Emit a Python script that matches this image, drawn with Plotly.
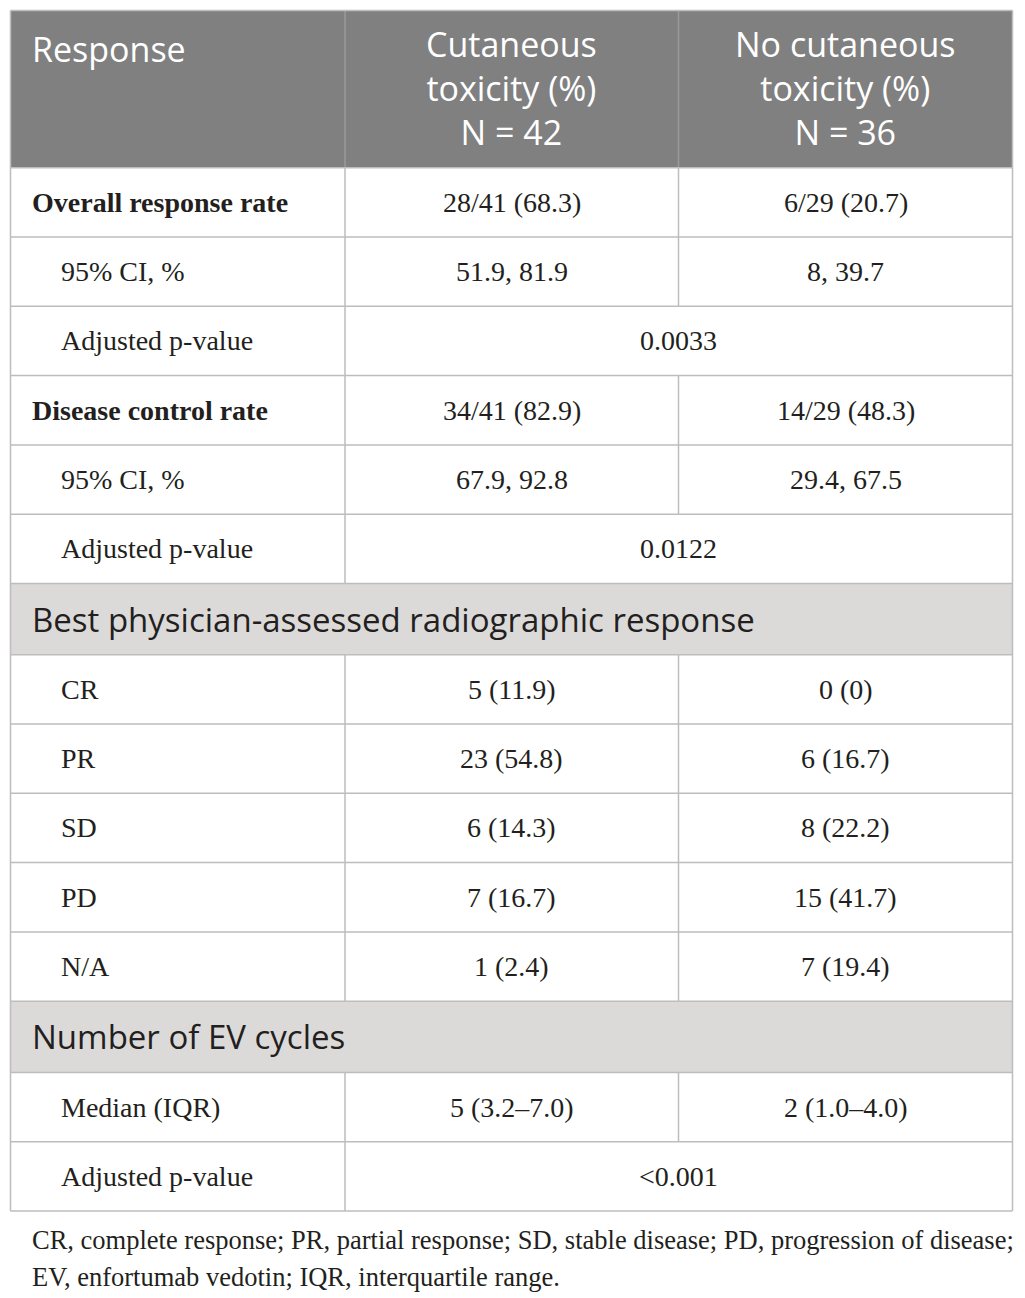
import plotly.graph_objects as go

# column headers
col_headers = [
    "Response",
    "Cutaneous<br>toxicity (%)<br>N = 42",
    "No cutaneous<br>toxicity (%)<br>N = 36",
]

# table rows
row_labels = [
    "Overall response rate", "95% CI, %", "Adjusted p-value",
    "Disease control rate", "95% CI, %", "Adjusted p-value",
    "Best physician-assessed radiographic response",
    "CR", "PR", "SD", "PD", "N/A",
    "Number of EV cycles",
    "Median (IQR)", "Adjusted p-value",
]
row_kind = [
    "bold", "sub", "span",
    "bold", "sub", "span",
    "section",
    "sub", "sub", "sub", "sub", "sub",
    "section",
    "sub", "span",
]
cutaneous = [
    "28/41 (68.3)", "51.9, 81.9", "0.0033",
    "34/41 (82.9)", "67.9, 92.8", "0.0122",
    "",
    "5 (11.9)", "23 (54.8)", "6 (14.3)", "7 (16.7)", "1 (2.4)",
    "",
    "5 (3.2–7.0)", "<0.001",
]
no_cutaneous = [
    "6/29 (20.7)", "8, 39.7", "",
    "14/29 (48.3)", "29.4, 67.5", "",
    "",
    "0 (0)", "6 (16.7)", "8 (22.2)", "15 (41.7)", "7 (19.4)",
    "",
    "2 (1.0–4.0)", "",
]

footnote = [
    "CR, complete response; PR, partial response; SD, stable disease; PD, progression of disease;",
    "EV, enfortumab vedotin; IQR, interquartile range.",
]

# page is 1025x1298, plot sits inside the 8px body margin
PAD = 8
W, H = 1025, 1298
col_x = [10.5, 345, 678.5, 1012.5]
top = 10.5
header_h = 157.2
row_h = 69.3
section_h = 71.2

HEAD_BG = "#808080"
SEC_BG = "#dcdad9"
LINE = "#bdbdbd"
TXT = "#231f20"
SANS = "Open Sans"
SERIF = "Liberation Serif"
BODY_SIZE = 28

fig = go.Figure()
shapes = []
ann = []

# header block
shapes.append(dict(type="rect", x0=col_x[0], x1=col_x[3], y0=top, y1=top + header_h,
                   fillcolor=HEAD_BG, line=dict(width=0), layer="below"))
ann.append(dict(x=col_x[0] + 19, y=top + 38.5, text=col_headers[0], xanchor="left",
                yanchor="middle", font=dict(family=SANS, size=34, color="white")))
for j in (1, 2):
    ann.append(dict(x=(col_x[j] + col_x[j + 1]) / 2, y=top + 77.5, text=col_headers[j],
                    xanchor="center", yanchor="middle", align="center",
                    font=dict(family=SANS, size=34, color="white")))

# body rows
y = top + header_h
row_edges = [y]
for i, kind in enumerate(row_kind):
    h = section_h if kind == "section" else row_h
    y0, y1 = y, y + h
    ym = (y0 + y1) / 2
    if kind == "section":
        shapes.append(dict(type="rect", x0=col_x[0], x1=col_x[3], y0=y0, y1=y1,
                           fillcolor=SEC_BG, line=dict(width=0), layer="below"))
        ann.append(dict(x=col_x[0] + 19, y=ym, text=row_labels[i], xanchor="left", yanchor="middle",
                        font=dict(family=SANS, size=33, color=TXT)))
    else:
        lbl = "<b>" + row_labels[i] + "</b>" if kind == "bold" else row_labels[i]
        ann.append(dict(x=col_x[0] + (19 if kind == "bold" else 48), y=ym, text=lbl,
                        xanchor="left", yanchor="middle",
                        font=dict(family=SERIF, size=BODY_SIZE, color=TXT)))
        shapes.append(dict(type="line", x0=col_x[1], x1=col_x[1], y0=y0, y1=y1,
                           line=dict(color=LINE, width=1.5)))
        if kind == "span":
            ann.append(dict(x=(col_x[1] + col_x[3]) / 2, y=ym, text=cutaneous[i],
                            xanchor="center", yanchor="middle",
                            font=dict(family=SERIF, size=BODY_SIZE, color=TXT)))
        else:
            shapes.append(dict(type="line", x0=col_x[2], x1=col_x[2], y0=y0, y1=y1,
                               line=dict(color=LINE, width=1.5)))
            ann.append(dict(x=(col_x[1] + col_x[2]) / 2, y=ym, text=cutaneous[i],
                            xanchor="center", yanchor="middle",
                            font=dict(family=SERIF, size=BODY_SIZE, color=TXT)))
            ann.append(dict(x=(col_x[2] + col_x[3]) / 2, y=ym, text=no_cutaneous[i],
                            xanchor="center", yanchor="middle",
                            font=dict(family=SERIF, size=BODY_SIZE, color=TXT)))
    y = y1
    row_edges.append(y)

# header dividers
for cx in col_x[1:3]:
    shapes.append(dict(type="line", x0=cx, x1=cx, y0=top, y1=top + header_h,
                       line=dict(color="#9a9a9a", width=1.5)))

# horizontal rules
for ry in row_edges:
    shapes.append(dict(type="line", x0=col_x[0], x1=col_x[3], y0=ry, y1=ry,
                       line=dict(color=LINE, width=1.5)))
shapes.append(dict(type="line", x0=col_x[0], x1=col_x[3], y0=top, y1=top,
                   line=dict(color=LINE, width=1.5)))
# outer verticals
for cx in (col_x[0], col_x[3]):
    shapes.append(dict(type="line", x0=cx, x1=cx, y0=top, y1=row_edges[-1],
                       line=dict(color=LINE, width=1.5)))

# footnote
for k, t in enumerate(footnote):
    ann.append(dict(x=col_x[0] + 19, y=row_edges[-1] + 28.5 + k * 37, text=t, xanchor="left",
                    yanchor="middle", font=dict(family=SERIF, size=26.5, color=TXT)))

for a in ann:
    a.update(xref="x", yref="y", showarrow=False)

fig.update_layout(
    width=W - PAD, height=H - PAD,
    margin=dict(l=0, r=0, t=0, b=0),
    paper_bgcolor="white", plot_bgcolor="white",
    shapes=shapes, annotations=ann,
    xaxis=dict(range=[PAD, W], visible=False, fixedrange=True),
    yaxis=dict(range=[H, PAD], visible=False, fixedrange=True),
    showlegend=False,
)

fig.write_html("out.html", config={"displayModeBar": False})
